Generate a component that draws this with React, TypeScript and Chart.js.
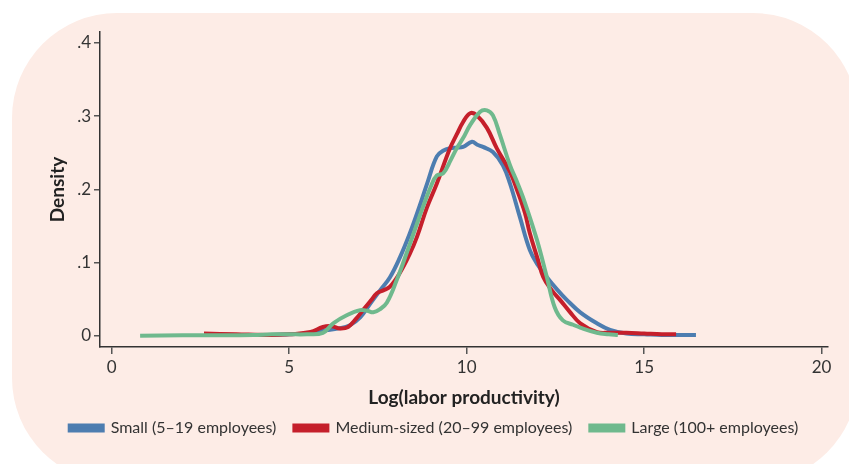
import { useEffect, useRef } from "react";
import { Chart, registerables } from "chart.js";

Chart.register(...registerables);

// Log(labor productivity) values and densities
const smallX = [2.6, 3.5, 4.5, 5.0, 5.5, 5.95, 6.4, 6.7, 7.0, 7.3, 7.56, 7.84, 8.12, 8.4, 8.68, 8.9, 9.16, 9.35, 9.53, 9.72, 9.9, 10.15, 10.3, 10.46, 10.74, 11.02, 11.22, 11.5, 11.78, 12.0, 12.26, 12.55, 12.82, 13.2, 13.67, 14.04, 14.5, 15.0, 15.5, 16.0, 16.46];
const smallY = [0.002, 0.001, 0.001, 0.002, 0.003, 0.007, 0.010, 0.014, 0.025, 0.045, 0.062, 0.080, 0.107, 0.140, 0.178, 0.210, 0.245, 0.253, 0.256, 0.257, 0.258, 0.265, 0.261, 0.258, 0.251, 0.233, 0.208, 0.162, 0.117, 0.097, 0.080, 0.063, 0.049, 0.032, 0.017, 0.008, 0.003, 0.002, 0.001, 0.001, 0.001];

const mediumX = [2.6, 3.5, 4.5, 5.0, 5.6, 5.95, 6.2, 6.43, 6.66, 6.9, 7.08, 7.3, 7.47, 7.65, 7.84, 8.12, 8.4, 8.6, 8.88, 9.16, 9.53, 9.72, 9.9, 10.1, 10.29, 10.57, 10.85, 11.22, 11.42, 11.64, 11.78, 12.0, 12.16, 12.4, 12.63, 12.9, 13.2, 13.67, 14.0, 14.5, 15.0, 15.5, 15.9];
const mediumY = [0.003, 0.002, 0.001, 0.002, 0.005, 0.012, 0.013, 0.010, 0.012, 0.024, 0.035, 0.048, 0.058, 0.062, 0.067, 0.086, 0.112, 0.135, 0.175, 0.208, 0.256, 0.275, 0.292, 0.304, 0.301, 0.284, 0.256, 0.224, 0.199, 0.168, 0.140, 0.105, 0.080, 0.062, 0.049, 0.033, 0.017, 0.005, 0.004, 0.004, 0.003, 0.002, 0.002];

const largeX = [0.8, 2.0, 3.0, 4.0, 4.5, 5.0, 5.5, 5.95, 6.24, 6.62, 7.0, 7.2, 7.37, 7.55, 7.75, 8.03, 8.31, 8.55, 8.77, 9.0, 9.16, 9.34, 9.55, 9.72, 9.9, 10.1, 10.38, 10.57, 10.74, 10.94, 11.22, 11.42, 11.64, 11.98, 12.26, 12.48, 12.71, 13.0, 13.2, 13.67, 14.0, 14.26];
const largeY = [0.0, 0.0005, 0.0005, 0.001, 0.002, 0.002, 0.002, 0.004, 0.017, 0.028, 0.035, 0.034, 0.032, 0.036, 0.045, 0.076, 0.113, 0.146, 0.176, 0.205, 0.219, 0.222, 0.240, 0.256, 0.270, 0.288, 0.306, 0.308, 0.301, 0.274, 0.233, 0.210, 0.182, 0.131, 0.080, 0.039, 0.021, 0.015, 0.011, 0.004, 0.002, 0.001];

const seriesLabels = ["Small (5\u201319 employees)", "Medium-sized (20\u201399 employees)", "Large (100+ employees)"];
const seriesColors = ["#4d7db0", "#c51f2b", "#6fb98d"];
const xTicks = [0, 5, 10, 15, 20];
const yTicks = [0, 0.1, 0.2, 0.3, 0.4];
const xTitle = "Log(labor productivity)";
const yTitle = "Density";

const FONT = "Lato, 'Open Sans', sans-serif";

const toPoints = (xs: number[], ys: number[]) => xs.map((x, i) => ({ x, y: ys[i] }));

export default function App() {
  const ref = useRef<HTMLCanvasElement>(null);

  useEffect(() => {
    const series = [
      [smallX, smallY],
      [mediumX, mediumY],
      [largeX, largeY],
    ];
    const chart = new Chart(ref.current!, {
      type: "line",
      data: {
        datasets: series.map(([xs, ys], i) => ({
          label: seriesLabels[i],
          data: toPoints(xs, ys),
          borderColor: seriesColors[i],
          backgroundColor: seriesColors[i],
          borderWidth: 4,
          pointRadius: 0,
          tension: 0.4,
          fill: false,
          order: 2 - i,
        })),
      },
      options: {
        animation: false,
        responsive: false,
        devicePixelRatio: 1,
        layout: { padding: { left: 40, right: 21, top: 32, bottom: 18 } },
        plugins: {
          tooltip: { enabled: false },
          legend: {
            position: "bottom",
            labels: {
              boxWidth: 33,
              boxHeight: 5,
              padding: 18,
              color: "#333",
              font: { family: FONT, size: 16 },
              sort: (a: any, b: any) => a.datasetIndex - b.datasetIndex,
            },
          },
        },
        scales: {
          x: {
            type: "linear",
            min: -0.33,
            max: 20.18,
            afterBuildTicks: (s: any) => {
              s.ticks = xTicks.map((v) => ({ value: v }));
            },
            afterFit: (s: any) => {
              s.height = 55;
            },
            grid: { drawOnChartArea: false, drawTicks: true, tickLength: 7, color: "#555", lineWidth: 1.5 },
            border: { display: true, color: "#333", width: 1.5 },
            ticks: { color: "#333", font: { family: FONT, size: 17 }, padding: 3, maxRotation: 0, autoSkip: false },
            title: { display: true, text: xTitle, color: "#222", font: { family: FONT, size: 19, weight: "bold" }, padding: { top: 0, bottom: -7 } },
          },
          y: {
            type: "linear",
            min: -0.0154,
            max: 0.415,
            afterBuildTicks: (s: any) => {
              s.ticks = yTicks.map((v) => ({ value: v }));
            },
            afterFit: (s: any) => {
              s.width = 60;
            },
            grid: { drawOnChartArea: false, drawTicks: true, tickLength: 6, color: "#555", lineWidth: 1.5 },
            border: { display: true, color: "#333", width: 1.5 },
            ticks: {
              color: "#333",
              font: { family: FONT, size: 17 },
              padding: 3,
              callback: (v: any) => (v === 0 ? "0" : "." + Math.round(Number(v) * 10)),
            },
            title: { display: true, text: yTitle, color: "#222", font: { family: FONT, size: 19, weight: "bold" }, padding: { top: 6, bottom: 0 } },
          },
        },
      },
    });
    return () => chart.destroy();
  }, []);

  return (
    <div style={{ position: "fixed", left: 0, top: 0, width: 849, height: 464, overflow: "hidden", background: "#ffffff" }}>
      <div style={{ position: "absolute", left: 12, top: 13, width: 846, height: 470, borderRadius: 105, background: "#fdece6" }} />
      <canvas ref={ref} width={849} height={464} style={{ position: "absolute", left: 0, top: 0, width: 849, height: 464 }} />
    </div>
  );
}
